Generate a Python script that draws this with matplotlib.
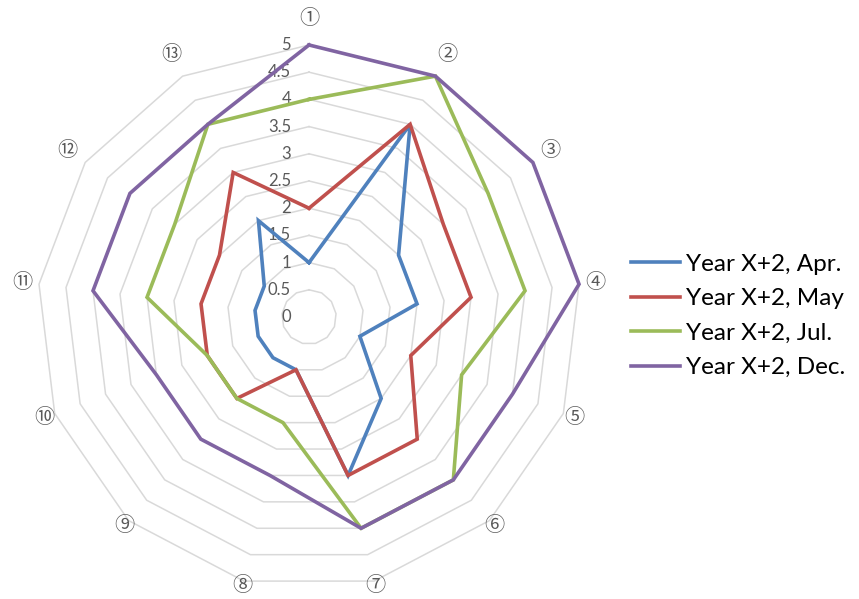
import numpy as np
import matplotlib
matplotlib.use('Agg')
import matplotlib.pyplot as plt

# axis names (circled numbers) and radial tick labels
categories = ['①', '②', '③', '④', '⑤', '⑥', '⑦', '⑧', '⑨', '⑩', '⑪', '⑫', '⑬']
r_ticks = [0, 0.5, 1, 1.5, 2, 2.5, 3, 3.5, 4, 4.5, 5]
r_tick_labels = ['0', '0.5', '1', '1.5', '2', '2.5', '3', '3.5', '4', '4.5', '5']

series_names = ['Year X+2, Apr.', 'Year X+2, May', 'Year X+2, Jul.', 'Year X+2, Dec.']
apr = [1, 4, 2, 2, 1, 2, 3, 1, 1, 1, 1, 1, 2]
may = [2, 4, 3, 3, 2, 3, 3, 1, 2, 2, 2, 2, 3]
jul = [4, 5, 4, 4, 3, 4, 4, 2, 2, 2, 3, 3, 4]
dec = [5, 5, 5, 5, 4, 4, 4, 3, 3, 3, 4, 4, 4]
colors = ['#4F81BD', '#C0504D', '#9BBB59', '#8064A2']

n = len(categories)
angles = np.linspace(0, 2 * np.pi, n, endpoint=False)
closed = np.append(angles, angles[0])

fig = plt.figure(figsize=(8.59, 5.99), dpi=100)
ax = fig.add_axes([0.0431, 0.0167, 0.6333, 0.9082], projection='polar')
ax.set_theta_zero_location('N')
ax.set_theta_direction(-1)
ax.set_ylim(0, 5)
ax.set_xticks([])
ax.set_yticks([])
ax.grid(False)
ax.spines['polar'].set_visible(False)

# polygon gridlines
for r in r_ticks[1:]:
    ax.plot(closed, [r] * (n + 1), color='#D9D9D9', lw=1.1, zorder=1, clip_on=False)

# radial labels along the first axis
for r, lbl in zip(r_ticks, r_tick_labels):
    ax.annotate(lbl, xy=(0, r), xytext=(-13, 0), textcoords='offset points',
                ha='right', va='center', fontsize=12, color='#595959',
                family='Lato', zorder=2)

# category labels
for a, c in zip(angles, categories):
    ax.text(a, 5.28 + 0.2 * np.cos(a), c, ha='center', va='center', fontsize=14.5,
            color='#595959', family=['Noto Sans CJK JP', 'DejaVu Sans'])

for vals, name, col in zip([apr, may, jul, dec], series_names, colors):
    ax.plot(closed, vals + vals[:1], color=col, lw=2.6, label=name,
            solid_joinstyle='miter', zorder=3, clip_on=False)

fig.legend(loc='center left', bbox_to_anchor=(0.735, 0.4725), frameon=False,
           prop={'family': 'Lato', 'size': 17.5}, handlelength=2.0,
           handletextpad=0.25, labelspacing=0.55, borderpad=0, borderaxespad=0)

fig.savefig('out.png', dpi=100)
